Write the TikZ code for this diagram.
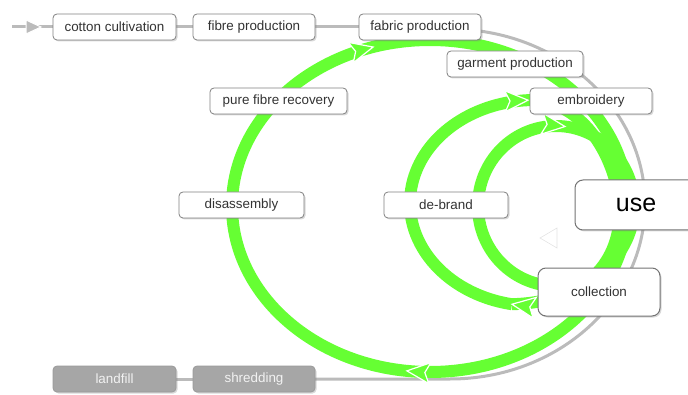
\documentclass[tikz,border=0pt]{standalone}
\usepackage{fontspec}
\setmainfont{Liberation Sans}
\usetikzlibrary{shadows}
\definecolor{gr}{HTML}{66FF33}
\definecolor{lineg}{HTML}{BBBBBB}
\definecolor{boxb}{HTML}{808080}
\definecolor{txt}{HTML}{333333}
\definecolor{gfill}{HTML}{A6A6A6}
\definecolor{gdraw}{HTML}{9A9A9A}
\newcommand\flowtip[2]{\begin{scope}[shift={(#1)}, rotate=#2]\filldraw[fill=gr, draw=white, line width=1.2pt, line join=miter] (0,0) -- (-23,10.5) -- (-18,0) -- (-23,-10.5) -- cycle;\end{scope}}
\begin{document}
\begin{tikzpicture}[x=1pt,y=1pt,
  box/.style={draw=boxb, line width=0.8pt, fill=white, rounded corners=4pt, minimum height=26pt, inner sep=0pt, font=\fontsize{13.4}{15}\selectfont, text=txt, drop shadow={shadow xshift=1.5pt, shadow yshift=-1.5pt, opacity=0.3}},
  bigbox/.style={box, rounded corners=8pt, line width=1pt, draw=boxb!90!black},
  gbox/.style={box, fill=gfill, draw=gdraw, text=white!95!black},
  flow/.style={draw=gr, line width=12pt},
  conn/.style={draw=lineg, line width=3pt}]
\useasboundingbox (0,0) rectangle (688,394);
% positions
\coordinate (src) at (12,367);
\path (114.5,367) coordinate (pcc) (254,367) coordinate (pfp) (420,367) coordinate (pfab) (114.5,15) coordinate (pland) (254,15) coordinate (pshred);
% gray connectors (under everything)
\draw[conn] (src) -- (pcc);
\filldraw[fill=lineg, draw=white, line width=1pt] (41,367) -- (26,374) -- (26,360) -- cycle;
\draw[conn] (pcc) -- (pfp);
\draw[conn] (pfp) -- (pfab);
\draw[conn] (pland) -- (pshred);
\draw[conn] (pshred) -- (450,15) arc[start angle=-90, end angle=90, x radius=195, y radius=175] -- (pfab);
% green flows
\draw[flow] (430,188) ellipse [x radius=198, y radius=166];
\draw[flow] (556,188) ellipse [x radius=78, y radius=80];
\path (430,188) ++(106.7:198 and 166) coordinate (t1);
\path (430,188) ++(263.3:198 and 166) coordinate (t2);
\path (535,191) ++(93.2:125 and 103) coordinate (t3);
\path (535,191) ++(259.4:125 and 103) coordinate (t4);
\path (556,188) ++(83.4:78 and 80) coordinate (t5);
\draw[flow] (t4) arc[start angle=259.4, end angle=93.2, x radius=125, y radius=103] .. controls (575,295) and (612,250) .. (620,190) .. controls (622,130) and (585,92) .. (t4);
\flowtip{t1}{14}
\flowtip{t2}{174.4}
\flowtip{t3}{2.6}
\flowtip{t4}{171.2}
\flowtip{t5}{-6.8}
% nodes
\node[box, minimum width=123pt] (cc) at (pcc) {cotton cultivation};
\node[box, minimum width=122pt] (fp) at (pfp) {fibre production};
\node[box, minimum width=122pt] (fab) at (pfab) {fabric production};
\node[gbox, minimum width=123pt] (land) at (pland) {landfill};
\node[gbox, minimum width=122pt] (shred) at (pshred) {shredding};
\node[box, minimum width=136pt] (garm) at (515,330) {garment production};
\node[box, minimum width=122pt] (emb) at (591,293) {embroidery};
\node[box, minimum width=137pt] (pfr) at (278.5,293) {pure fibre recovery};
\node[box, minimum width=125pt] (dis) at (241.5,189) {disassembly};
\node[box, minimum width=124pt] (deb) at (446,189) {de-brand};
\node[bigbox, minimum width=122pt, minimum height=50pt, font=\fontsize{25}{28}\selectfont, text=black] (use) at (636,189) {use};
\node[bigbox, minimum width=122pt, minimum height=48pt] (coll) at (599,102) {collection};
\draw[gray!22, line width=0.6pt] (540,156) -- (557,166) -- (557,146) -- cycle;
\end{tikzpicture}
\end{document}
